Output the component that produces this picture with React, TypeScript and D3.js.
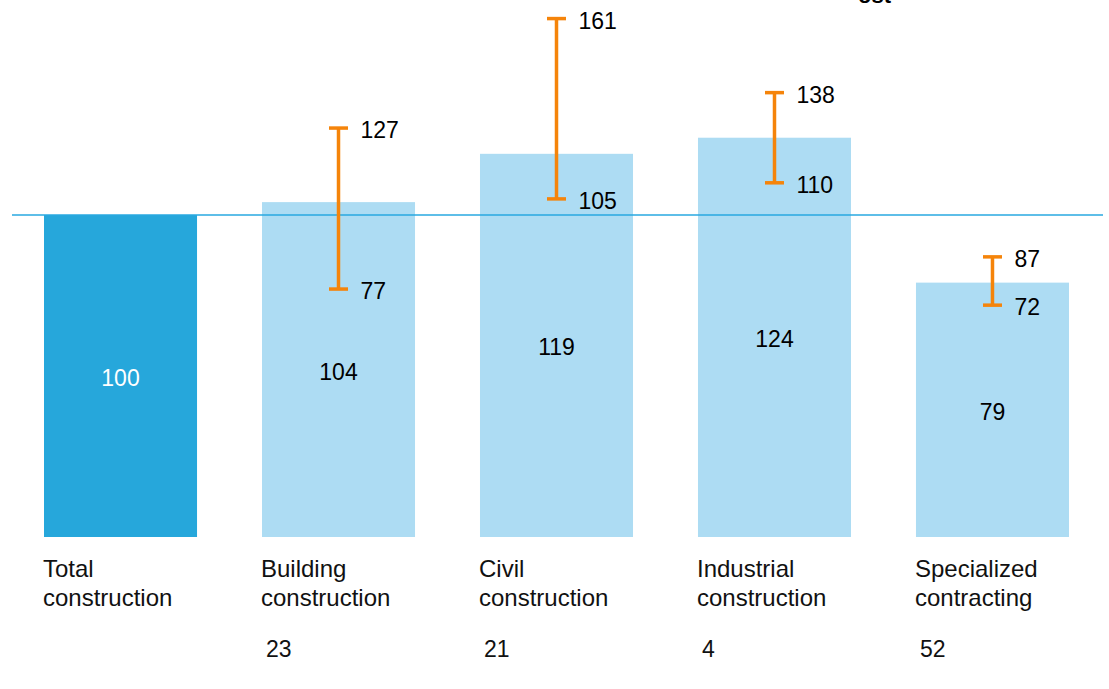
import React from "react";
import * as d3 from "d3";

const categories = ["Total construction", "Building construction", "Civil construction", "Industrial construction", "Specialized contracting"];
const labelLines = [["Total", "construction"], ["Building", "construction"], ["Civil", "construction"], ["Industrial", "construction"], ["Specialized", "contracting"]];
const values = [100, 104, 119, 124, 79];
const rangeLow = [null, 77, 105, 110, 72];
const rangeHigh = [null, 127, 161, 138, 87];
const shares = ["", "23", "21", "4", "52"];
const referenceValue = 100;

const W = 1109;
const H = 689;
const FONT = "Liberation Sans, Arial, sans-serif";

export default function App() {
  const x = d3.scaleBand<string>().domain(categories).range([44, 1069]).paddingInner(0.298).paddingOuter(0);
  const y = d3.scaleLinear().domain([0, 100]).range([537, 215]);
  const bw = x.bandwidth();
  const orange = "#f5840a";

  return (
    <svg width={W} height={H} style={{ position: "absolute", left: 0, top: 0, fontFamily: FONT }}>
      <text x={858} y={3} fontSize={22} fontWeight="bold" fill="#000">ost</text>
      {categories.map((c, i) => {
        const x0 = x(c)!;
        const top = y(values[i]);
        const mid = (top + y(0)) / 2;
        return (
          <g key={c}>
            <rect x={x0} y={top} width={bw} height={y(0) - top} fill={i === 0 ? "#26a7db" : "#addcf3"} />
            <text x={x0 + bw / 2} y={mid + 10} fontSize={23} textAnchor="middle" fill={i === 0 ? "#ffffff" : "#000"}>{values[i]}</text>
            {labelLines[i].map((l, j) => (
              <text key={j} x={x0 - 1} y={577 + j * 29} fontSize={24} fill="#111">{l}</text>
            ))}
            {shares[i] && <text x={x0 + 4} y={657} fontSize={23} fill="#111">{shares[i]}</text>}
          </g>
        );
      })}
      <line x1={12} x2={1103} y1={y(referenceValue)} y2={y(referenceValue)} stroke="#29a9e0" strokeWidth={1.6} />
      {categories.map((c, i) => {
        if (rangeLow[i] == null) return null;
        const cx = x(c)! + bw / 2;
        const yl = y(rangeLow[i] as number);
        const yh = y(rangeHigh[i] as number);
        return (
          <g key={"e" + c}>
            <line x1={cx} x2={cx} y1={yh} y2={yl} stroke={orange} strokeWidth={3.5} />
            <line x1={cx - 9.5} x2={cx + 9.5} y1={yh} y2={yh} stroke={orange} strokeWidth={3.5} />
            <line x1={cx - 9.5} x2={cx + 9.5} y1={yl} y2={yl} stroke={orange} strokeWidth={3.5} />
            <text x={cx + 22} y={yh + 10} fontSize={23} fill="#000">{rangeHigh[i]}</text>
            <text x={cx + 22} y={yl + 10} fontSize={23} fill="#000">{rangeLow[i]}</text>
          </g>
        );
      })}
    </svg>
  );
}
